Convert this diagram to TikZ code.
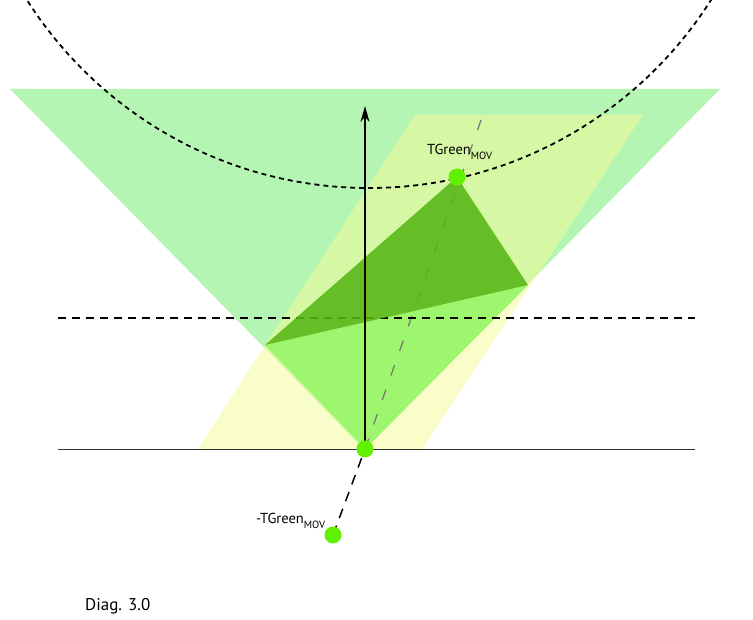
\documentclass[tikz,border=0pt]{standalone}
\usepackage{fontspec}
\setmainfont{PT Sans}
\usetikzlibrary{arrows.meta}
\definecolor{conegreen}{RGB}{181,245,179}
\definecolor{slabyellow}{RGB}{244,251,153}
\definecolor{midgreen}{RGB}{158,245,110}
\definecolor{darkgreen}{RGB}{87,183,21}
\definecolor{dotgreen}{RGB}{96,240,0}
\newcommand{\mov}{\raisebox{-5pt}{\fontsize{10.5}{11}\selectfont MOV}}

\begin{document}
\begin{tikzpicture}[x=1pt, y=-1pt, every node/.style = {inner sep=0pt},
  dot/.style = {circle, fill=dotgreen, minimum size=17pt},
  lbl/.style = {anchor=base west, font=\fontsize{14.5}{16}\selectfont},
  dashline/.style = {line width=1.5pt, dash pattern=on 8pt off 6pt}]
\useasboundingbox (0,0) rectangle (753,620);
\coordinate (pos) at (457,177);
\coordinate (origin) at (365,449);
\coordinate (neg) at (333,535);
\coordinate (rayend) at (486,106);
\coordinate (arrowtop) at (365,106);
% light cone and slab
\fill[conegreen] (10,89) -- (720,89) -- (365,450) -- cycle;
\fill[slabyellow, fill opacity=0.53] (197,450) -- (415,115) -- (643,115) -- (422,450) -- cycle;
\fill[midgreen] (265,345) -- (528,285) -- (origin) -- cycle;
% ray
\draw[line width=1.2pt, black!55, dash pattern=on 11pt off 15pt] (origin) -- (rayend);
\draw[line width=1.5pt, dash pattern=on 10pt off 8pt] (neg) -- (origin);
\draw[dashline] (58,318) -- (695,318);
\fill[darkgreen, fill opacity=0.88] (265,345) -- (528,285) -- (pos) -- cycle;
\draw[line width=1.5pt, -{Stealth[length=16pt, width=9pt]}] (origin) -- (arrowtop);
\begin{scope}
\clip (0,0) rectangle (753,620);
\draw[line width=1.8pt, dash pattern=on 5pt off 4pt] (369,-217) circle[radius=405pt];
\end{scope}
\draw[line width=1pt, black!80] (58,450) -- (695,450);
% points
\node[dot] (posdot) at (pos) {};
\node[dot] (origindot) at (origin) {};
\node[dot] (negdot) at (neg) {};
\node[lbl] (poslabel) at (427,155) {TGreen\mov};
\node[lbl] (neglabel) at (256,523) {-TGreen\mov};
\node[anchor=base west, font=\fontsize{17}{19}\selectfont] (caption) at (85,610) {Diag. 3.0};
\end{tikzpicture}
\end{document}
